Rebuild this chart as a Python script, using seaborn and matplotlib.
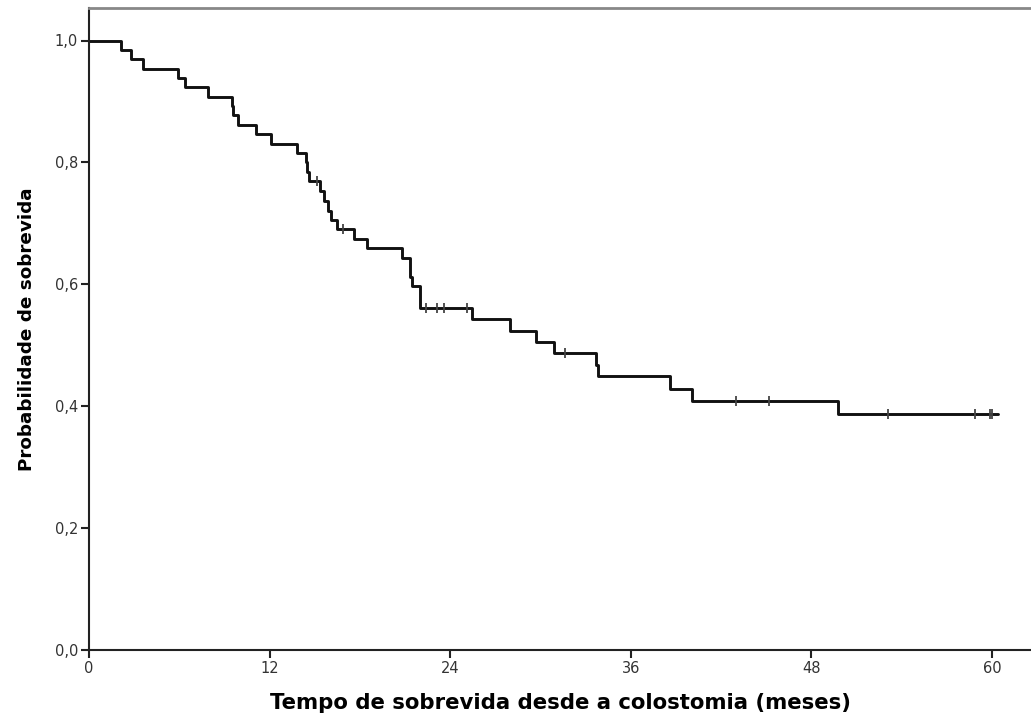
import numpy as np
import pandas as pd
import matplotlib
matplotlib.use("Agg")
import matplotlib.pyplot as plt
import seaborn as sns

# ---- data ----
event_times = [0, 2.1, 2.8, 3.6, 5.9, 6.4, 7.9, 9.5, 9.6, 9.9, 11.1, 12.1, 13.8,
               14.4, 14.5, 14.6, 15.35, 15.6, 15.85, 16.1, 16.45, 17.6, 18.5,
               20.8, 21.33, 21.45, 22.0, 25.45, 28.0, 29.7, 30.9, 33.7, 33.85,
               38.6, 40.05, 49.8, 60.4]
survival = [1.0, 0.985, 0.969, 0.954, 0.938, 0.923, 0.908, 0.892, 0.877, 0.862,
            0.846, 0.831, 0.815, 0.800, 0.785, 0.769, 0.753, 0.737, 0.721, 0.706,
            0.690, 0.675, 0.659, 0.643, 0.612, 0.597, 0.561, 0.543, 0.524, 0.506,
            0.487, 0.468, 0.449, 0.428, 0.409, 0.387, 0.387]
censor_times = [15.15, 16.85, 22.4, 23.15, 23.6, 25.1, 31.6, 43.0, 45.2, 53.1,
                58.9, 59.9, 60.0]
x_ticks = [0, 12, 24, 36, 48, 60]
y_ticks = [0.0, 0.2, 0.4, 0.6, 0.8, 1.0]
y_tick_labels = ["0,0", "0,2", "0,4", "0,6", "0,8", "1,0"]
x_label = "Tempo de sobrevida desde a colostomia (meses)"
y_label = "Probabilidade de sobrevida"

curve = pd.DataFrame({"t": event_times, "s": survival})
idx = np.searchsorted(np.array(event_times), np.array(censor_times), side="right") - 1
cens = pd.DataFrame({"t": censor_times, "s": np.array(survival)[idx]})

sns.set_style("white")
plt.rcParams["font.family"] = ["DejaVu Sans"]

fig = plt.figure(figsize=(10.31, 7.21), dpi=100)
ax = fig.add_axes([89 / 1031, 71 / 721, 1 - 89 / 1031, (650.5 - 8) / 721])

sns.lineplot(data=curve, x="t", y="s", ax=ax, drawstyle="steps-post",
             color="#111111", linewidth=2.1, sort=True, estimator=None)
sns.scatterplot(data=cens, x="t", y="s", ax=ax, marker="|", s=60,
                color="#444444", linewidth=1.3, zorder=3)

ax.set_xlim(0, (1031 - 89) / 15.05)
ax.set_ylim(0, (650.5 - 8) / 609.5)
ax.set_xticks(x_ticks)
ax.set_xticklabels([str(v) for v in x_ticks])
ax.set_yticks(y_ticks)
ax.set_yticklabels(y_tick_labels)

ax.tick_params(axis="both", direction="out", length=6, width=1.5,
               color="#222222", labelsize=10.5, labelcolor="#333333", pad=2,
               left=True, bottom=True)

for side in ["left", "bottom"]:
    ax.spines[side].set_color("#222222")
    ax.spines[side].set_linewidth(1.5)
ax.spines["top"].set_color("#888888")
ax.spines["top"].set_linewidth(2.0)
ax.spines["right"].set_visible(False)

ax.set_xlabel(x_label, fontsize=15.3, fontweight="bold", color="#000000", labelpad=12)
ax.set_ylabel(y_label, fontsize=13.2, fontweight="bold", color="#000000", labelpad=13)

fig.savefig("out.png", dpi=100)
